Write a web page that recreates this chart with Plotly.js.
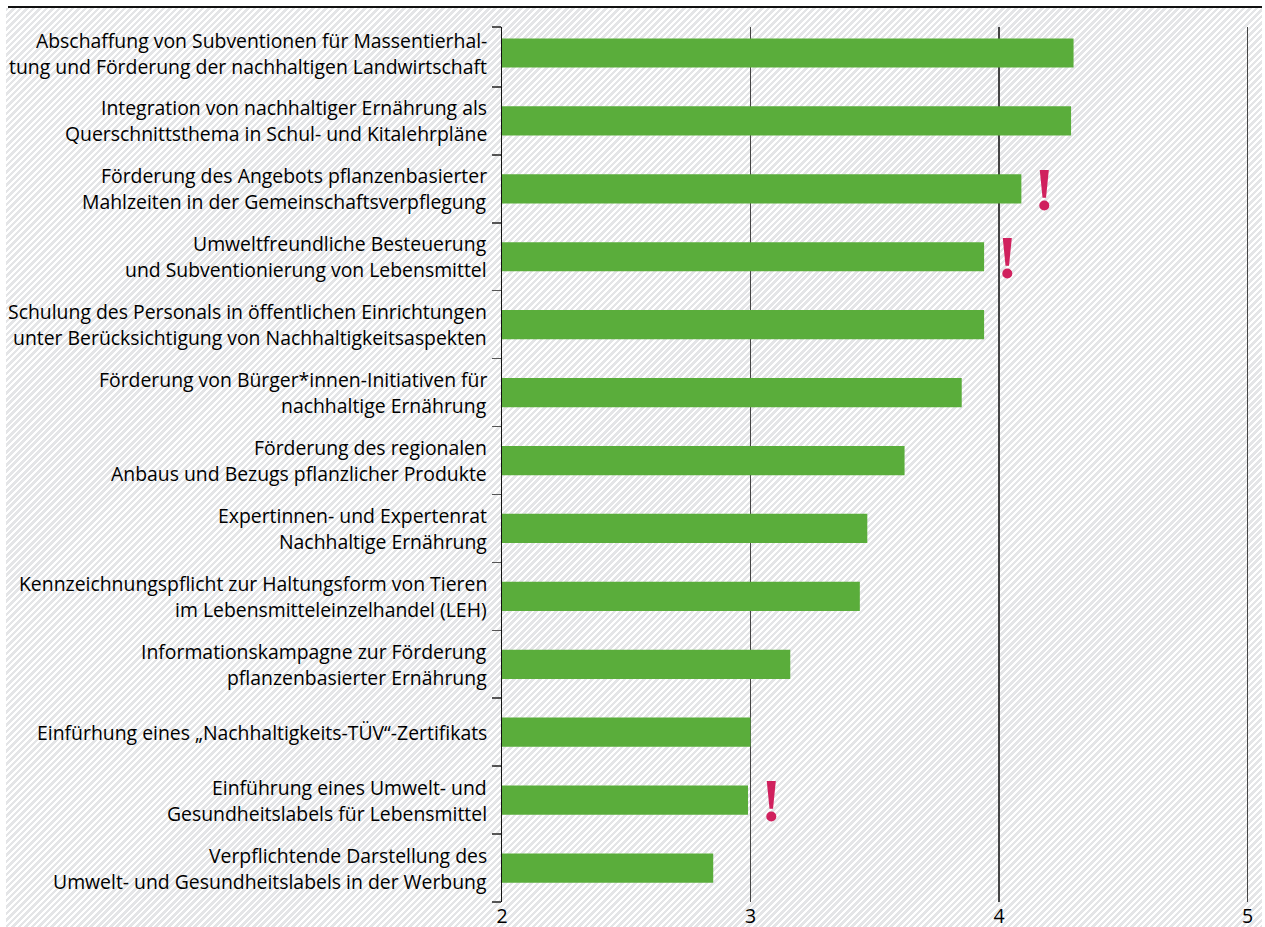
<!DOCTYPE html>
<html>
<head>
<meta charset="utf-8">
<script src="https://cdn.plot.ly/plotly-3.0.1.min.js"></script>
<style>
  html, body { margin: 0; padding: 0; background: #ffffff; }
  #hatch { position: absolute; left: 6px; top: 8px; width: 1256px; height: 919px;
    background: repeating-linear-gradient(135deg, #e4e5e7 0px, #e4e5e7 2.6px, #ffffff 2.6px, #ffffff 4.6px); }
  #topline { position: absolute; left: 8px; top: 6px; width: 1254px; height: 2px; background: #111; }
  #chart { position: absolute; left: 0; top: 0; width: 1265px; height: 927px; }
</style>
</head>
<body>
<div id="hatch"></div>
<div id="topline"></div>
<div id="chart"></div>
<script>
const categories = [
  "Abschaffung von Subventionen für Massentierhal-<br>tung und Förderung der nachhaltigen Landwirtschaft",
  "Integration von nachhaltiger Ernährung als<br>Querschnittsthema in Schul- und Kitalehrpläne",
  "Förderung des Angebots pflanzenbasierter<br>Mahlzeiten in der Gemeinschaftsverpflegung",
  "Umweltfreundliche Besteuerung<br>und Subventionierung von Lebensmittel",
  "Schulung des Personals in öffentlichen Einrichtungen<br>unter Berücksichtigung von Nachhaltigkeitsaspekten",
  "Förderung von Bürger*innen-Initiativen für<br>nachhaltige Ernährung",
  "Förderung des regionalen<br>Anbaus und Bezugs pflanzlicher Produkte",
  "Expertinnen- und Expertenrat<br>Nachhaltige Ernährung",
  "Kennzeichnungspflicht zur Haltungsform von Tieren<br>im Lebensmitteleinzelhandel (LEH)",
  "Informationskampagne zur Förderung<br>pflanzenbasierter Ernährung",
  "Einfürhung eines „Nachhaltigkeits-TÜV“-Zertifikats",
  "Einführung eines Umwelt- und<br>Gesundheitslabels für Lebensmittel",
  "Verpflichtende Darstellung des<br>Umwelt- und Gesundheitslabels in der Werbung"
];
const values = [4.30, 4.29, 4.09, 3.94, 3.94, 3.85, 3.62, 3.47, 3.44, 3.16, 3.00, 2.99, 2.85];
const flagged = [false, false, true, true, false, false, false, false, false, false, false, true, false];
const xTicks = [2, 3, 4, 5];

const FONT = "Open Sans, sans-serif";
const idx = categories.map((c, i) => i);
const boundaries = [-0.383].concat(idx.map(i => i + 0.5));

const annotations = [];
categories.forEach((c, i) => {
  const lines = c.split("<br>");
  const n = lines.length;
  lines.forEach((ln, k) => {
    const off = (n === 1) ? 0 : (k === 0 ? 13 : -13);
    annotations.push({
      xref: "paper", yref: "y", x: 0, y: i, xanchor: "right", yanchor: "middle",
      xshift: -13, yshift: off, text: ln, showarrow: false,
      font: { family: FONT, size: 19.4, color: "#000" }
    });
  });
  if (flagged[i]) {
    annotations.push({
      xref: "x", yref: "y", x: values[i], y: i, xanchor: "center", yanchor: "middle",
      xshift: 23, yshift: 0, text: "<b>!</b>", showarrow: false,
      font: { family: "Liberation Serif, serif", size: 62, color: "#d0215e" }
    });
  }
});

const data = [{
  type: "bar", orientation: "h", x: values, y: idx, base: 0,
  width: 0.43, marker: { color: "#5aad3b", line: { width: 0 } },
  hoverinfo: "x"
}];

const layout = {
  width: 1265, height: 927,
  margin: { l: 502, r: 15.5, t: 27, b: 24.5, pad: 0 },
  paper_bgcolor: "rgba(0,0,0,0)", plot_bgcolor: "rgba(0,0,0,0)",
  showlegend: false,
  xaxis: {
    range: [2, 5.006], tickmode: "array", tickvals: xTicks, ticktext: xTicks.map(String),
    showgrid: true, gridcolor: "#444", gridwidth: 1.4, zeroline: false, showline: false,
    ticks: "", tickfont: { family: FONT, size: 19.5, color: "#000" }, fixedrange: true
  },
  yaxis: {
    range: [12.5, -0.383], tickmode: "array", tickvals: boundaries,
    ticktext: boundaries.map(() => ""), ticks: "outside", ticklen: 9, tickwidth: 1.5,
    tickcolor: "#555", showgrid: false, zeroline: false, showline: true,
    linecolor: "#111", linewidth: 1.5, fixedrange: true
  },
  annotations: annotations
};

Plotly.newPlot("chart", data, layout, { displayModeBar: false, staticPlot: true });
</script>
</body>
</html>
